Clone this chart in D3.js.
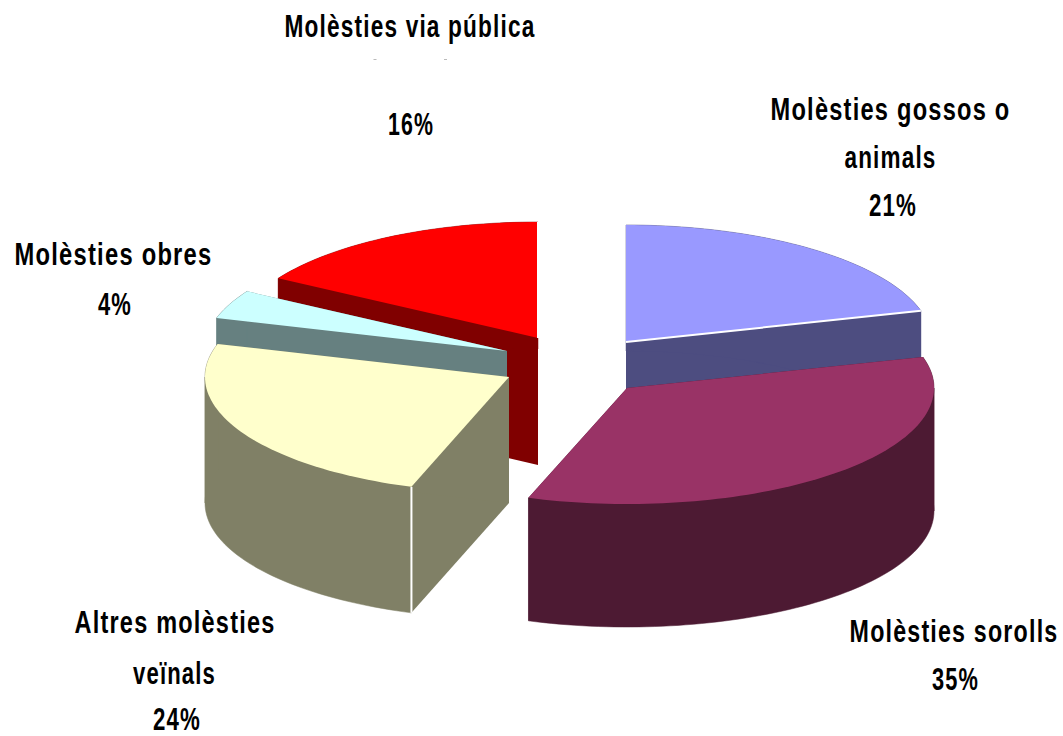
<!DOCTYPE html>
<html>
<head>
<meta charset="utf-8">
<script src="https://cdn.jsdelivr.net/npm/d3@7/dist/d3.min.js"></script>
<style>
html,body{margin:0;padding:0;background:#fff;overflow:hidden}
text{font-family:"Liberation Sans",Arial,sans-serif;font-weight:700;fill:#000}
</style>
</head>
<body>
<svg id="c" width="1063" height="736" xmlns="http://www.w3.org/2000/svg"></svg>
<script>
// Data
const categories = [
  ["Molèsties gossos o","animals"],
  ["Molèsties sorolls"],
  ["Altres molèsties","veïnals"],
  ["Molèsties obres"],
  ["Molèsties via pública"]
];
const values = [20.7, 34.5, 24.4, 4.0, 16.4];

// Styles and layout
const topColours  = ["#9999FF","#993366","#FFFFCC","#CCFFFF","#FF0000"];
const wallColours = ["#4D4D80","#4D1A33","#808066","#668080","#800000"];
const apexX = [626, 627, 509, 507, 538];
const apexY = [342, 388, 377, 351, 338];
const radiusX = [306, 307, 304, 303, 303];
const radiusY = [117, 116, 116, 116, 116];
const depth = [126, 123, 126, 126, 127];
const drawOrder = [0, 4, 3, 2, 1];
const FONT = 31, TRACKING = 1.6;
// one [centre x, baseline, width] per printed line
const labelLines = [
  [[890.5,120,240],[890.5,168,92],[893,216,48]],
  [[954,642,209],[955.5,690,47]],
  [[175,633,201],[174.5,684,83],[177,729.5,48]],
  [[113.5,265,198],[115,315,34]],
  [[410,37,251],[411,135,46]]
];

const svg = d3.select("#c");
const unitX = d3.scaleLinear().domain([-1,1]);
const unitY = d3.scaleLinear().domain([-1,1]);
const pie = d3.pie().sort(null).value(d=>d);
const arcs = pie(values);
const line = d3.line();
const TAU = Math.PI*2;

function rim(i, a, dz){
  unitX.range([-radiusX[i],radiusX[i]]);
  unitY.range([radiusY[i],-radiusY[i]]);
  return [apexX[i]+unitX(Math.sin(a)), apexY[i]+unitY(Math.cos(a))+(dz||0)];
}
function samples(a0,a1){
  const n = Math.max(2,Math.ceil((a1-a0)/TAU*240));
  return d3.range(n+1).map(k=>a0+(a1-a0)*k/n);
}
// split a slice's arc at the ellipse's left and right extremes, where the wall folds
function wallRuns(d){
  const stops = [d.startAngle]
    .concat([TAU/4,TAU*3/4].filter(a=>a>d.startAngle&&a<d.endAngle))
    .concat([d.endAngle]);
  return d3.pairs(stops);
}

drawOrder.forEach(i=>{
  const d = arcs[i];
  const g = svg.append("g").attr("class","slice");
  const apex = [apexX[i],apexY[i]];
  const apexLow = [apexX[i],apexY[i]+depth[i]];
  // radial walls
  [d.startAngle,d.endAngle].forEach(a=>{
    g.append("path")
      .attr("d",line([apex,rim(i,a),rim(i,a,depth[i]),apexLow])+"Z")
      .attr("fill",wallColours[i]);
  });
  // outer wall
  wallRuns(d).forEach(([a0,a1])=>{
    const s = samples(a0,a1);
    const pts = s.map(a=>rim(i,a)).concat(s.slice().reverse().map(a=>rim(i,a,depth[i])));
    g.append("path").attr("d",line(pts)+"Z").attr("fill",wallColours[i])
      .attr("stroke",wallColours[i]).attr("stroke-width",0.5);
  });
  // white seam on the front corner of the yellow slice
  if(i===2){
    g.append("path")
      .attr("d",line([rim(i,d.startAngle),rim(i,d.startAngle,depth[i])]))
      .attr("stroke","#fff").attr("stroke-width",2).attr("fill","none");
  }
  // top face
  g.append("path")
    .attr("d",line([apex].concat(samples(d.startAngle,d.endAngle).map(a=>rim(i,a))))+"Z")
    .attr("fill",topColours[i]);
  // white seam between top and side wall
  if(i===0 || i===4){
    g.append("path")
      .attr("d",line([apex,rim(i,d.endAngle)]))
      .attr("stroke","#fff").attr("stroke-width",2).attr("fill","none");
  }
});

// labels: glyphs squeezed horizontally, tracked out, to the printed width
categories.forEach((lines,i)=>{
  const texts = lines.concat([Math.round(values[i])+"%"]);
  texts.forEach((t,j)=>{
    const [cx,by,w] = labelLines[i][j];
    const el = svg.append("text")
      .attr("text-anchor","middle")
      .attr("font-size",FONT)
      .attr("letter-spacing",TRACKING)
      .text(t);
    const natural = el.node().getComputedTextLength();
    el.attr("transform",`translate(${cx},${by}) scale(${w/natural},1)`);
  });
});

// two faint specks under the top label, as in the reference
const specks = [375, 445.5];
svg.selectAll("line.speck").data(specks).join("line")
  .attr("class","speck")
  .attr("x1",d=>d-1.5).attr("x2",d=>d+1.5)
  .attr("y1",59.5).attr("y2",59.5)
  .attr("stroke","#bbb").attr("stroke-width",1);
</script>
</body>
</html>
